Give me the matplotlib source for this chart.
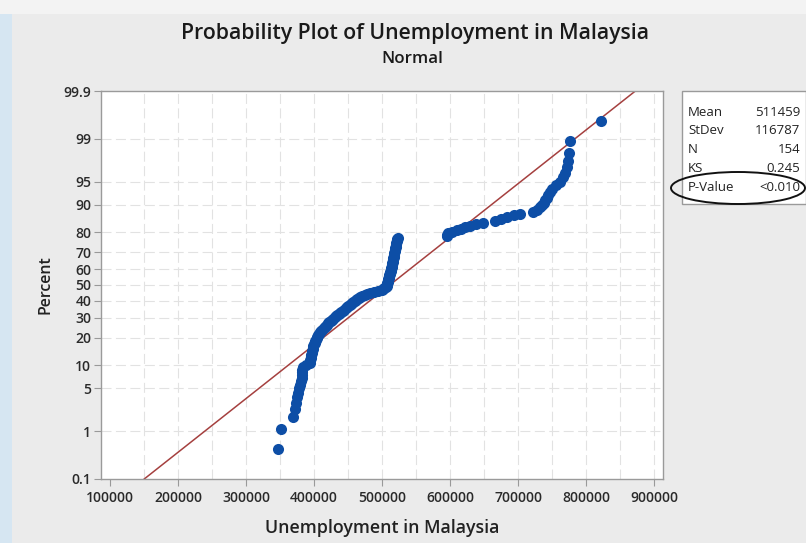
import matplotlib
matplotlib.use("Agg")
import matplotlib.pyplot as plt
from matplotlib.patches import Rectangle, Ellipse
from statistics import NormalDist
import numpy as np

# --- Data: sorted unemployment counts (persons) ---
values = [
    347000, 351500, 369000, 372100, 373600, 375200, 376500, 378000, 379400, 380600,
    381800, 382300, 382700, 383100, 383600, 389000, 393800, 394500, 395100, 395700,
    396300, 396800, 397400, 397900, 398500, 399300, 400200, 401200, 402100, 403100,
    404100, 405000, 406000, 407600, 409200, 410900, 412500, 414100, 415800, 417400,
    419000, 420900, 422800, 424600, 426500, 428400, 430200, 432100, 434000, 436100,
    438200, 440200, 442300, 444400, 446400, 448500, 450400, 452300, 454200, 456100,
    458000, 459900, 461800, 463700, 465700, 467600, 471200, 474800, 478400, 482000,
    488000, 494000, 500000, 501800, 503500, 505300, 507000, 507400, 507800, 508200,
    508600, 509000, 509400, 509800, 510200, 510600, 511000, 511400, 511800, 512200,
    512600, 513000, 513300, 513600, 514000, 514300, 514600, 515000, 515300, 515600,
    515900, 516300, 516600, 516900, 517300, 517600, 518000, 518300, 518700, 519100,
    519400, 519800, 520200, 520500, 520900, 521300, 521600, 522000, 522700, 523500,
    595000, 596000, 597000, 603000, 609500, 616000, 622500, 629000, 638500, 648500,
    666000, 675000, 684000, 693500, 703000, 722500, 727500, 732000, 735000, 737500,
    740000, 742000, 744100, 747000, 750000, 755000, 762000, 766500, 769100, 771500,
    773500, 775200, 777000, 822000,
]

# summary statistics shown in the side table
mean = 511459
stdev = 116787
n = 154
ks = "0.245"
p_value = "<0.010"

pct_ticks = [0.1, 1, 5, 10, 20, 30, 40, 50, 60, 70, 80, 90, 95, 99, 99.9]
x_ticks = [100000, 200000, 300000, 400000, 500000, 600000, 700000, 800000, 900000]

assert len(values) == n

# median ranks (Benard) -> normal scores
nd = NormalDist()
ranks = np.arange(1, n + 1)
probs = (ranks - 0.3) / (n + 0.4)
zscores = np.array([nd.inv_cdf(p) for p in probs])

fig = plt.figure(figsize=(8.06, 5.43), dpi=100, facecolor="#ebebeb")
plt.rcParams["font.family"] = ["Open Sans", "DejaVu Sans"]

# window chrome: pale strip on top, light blue strip on the left
fig.patches.append(Rectangle((0, 0.974), 1, 0.026, transform=fig.transFigure,
                             facecolor="#f3f3f3", edgecolor="none", zorder=0))
fig.patches.append(Rectangle((0, 0), 0.015, 0.974, transform=fig.transFigure,
                             facecolor="#d6e6f2", edgecolor="none", zorder=0))

ax = fig.add_axes([0.1253, 0.1179, 0.6973, 0.7145])
ax.set_facecolor("white")

xmin, xmax = 87000, 913000
zmin, zmax = nd.inv_cdf(0.001), nd.inv_cdf(0.999)

# gridlines
for gx in np.arange(150000, 900001, 50000):
    ax.axvline(gx, color="#e2e2e2", lw=0.8, ls=(0, (9, 4)), zorder=1)
for t in pct_ticks[1:-1]:
    ax.axhline(nd.inv_cdf(t / 100), color="#e2e2e2", lw=0.8, ls=(0, (9, 4)), zorder=1)

# fitted normal line
zl = np.array([zmin, zmax])
ax.plot(mean + zl * stdev, zl, color="#a5403f", lw=1.1, zorder=2)

# data points
ax.plot(values, zscores, "o", color="#0d4ea6", markersize=8, markeredgewidth=0, zorder=3)

ax.set_xlim(xmin, xmax)
ax.set_ylim(zmin, zmax)
ax.set_xticks(x_ticks)
ax.set_xticklabels([str(v) for v in x_ticks])
ax.set_yticks([nd.inv_cdf(t / 100) for t in pct_ticks])
ax.set_yticklabels([f"{t:g}" for t in pct_ticks])
ax.tick_params(axis="both", length=5, width=0.8, color="#999999",
               labelsize=10, labelcolor="#2a2a2a", pad=2)
ax.tick_params(axis="x", pad=4)
for lab in ax.get_xticklabels() + ax.get_yticklabels():
    lab.set_fontweight("semibold")
for s in ax.spines.values():
    s.set_color("#9a9a9a")
    s.set_linewidth(1.0)

ax.set_xlabel("Unemployment in Malaysia", fontsize=12.8, fontweight="semibold",
              color="#222222", labelpad=10)
ax.set_ylabel("Percent", fontsize=11.5, fontweight="semibold", color="#222222", labelpad=7)

fig.text(0.515, 0.938, "Probability Plot of Unemployment in Malaysia", ha="center",
         va="center", fontsize=15.3, fontweight="semibold", color="#1a1a1a")
fig.text(0.512, 0.892, "Normal", ha="center", va="center", fontsize=12.2,
         fontweight="semibold", color="#1a1a1a")

# statistics table on the right
W, H = 806, 543
def fx(px):
    return px / W
def fy(py):
    return 1 - py / H

fig.patches.append(Rectangle((fx(682), fy(204)), fx(806) - fx(682), fy(91) - fy(204),
                             transform=fig.transFigure, facecolor="white",
                             edgecolor="#9a9a9a", lw=1.0, zorder=1))
rows = [("Mean", str(mean)), ("StDev", str(stdev)), ("N", str(n)),
        ("KS", ks), ("P-Value", p_value)]
for i, (k, v) in enumerate(rows):
    yy = fy(112 + i * 18.8)
    fig.text(fx(688), yy, k, ha="left", va="center", fontsize=9.5, color="#222222")
    fig.text(fx(800), yy, v, ha="right", va="center", fontsize=9.5, color="#222222")

fig.patches.append(Ellipse((fx(738), fy(188)), fx(134), 32 / H, transform=fig.transFigure,
                           facecolor="none", edgecolor="#111111", lw=1.4, zorder=5))

fig.savefig("out.png", dpi=100, facecolor=fig.get_facecolor())
